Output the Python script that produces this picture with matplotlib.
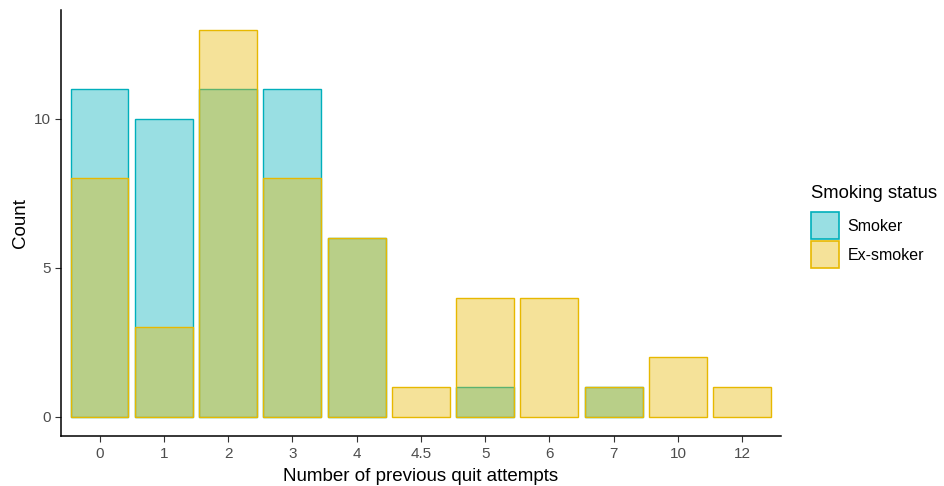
import matplotlib
matplotlib.use("Agg")
import matplotlib.pyplot as plt
from matplotlib.patches import Patch
import numpy as np

plt.rcParams['font.family'] = ['Liberation Sans', 'DejaVu Sans']

categories = ["0", "1", "2", "3", "4", "4.5", "5", "6", "7", "10", "12"]
smoker = [11, 10, 11, 11, 6, 0, 1, 0, 1, 0, 0]
ex_smoker = [8, 3, 13, 8, 6, 1, 4, 4, 1, 2, 1]

smoker_edge = "#00AFBB"
ex_edge = "#E7B800"
alpha = 0.4

fig = plt.figure(figsize=(9.44, 4.86), dpi=100)
ax = fig.add_axes([0.0646, 0.103, 0.7625, 0.876])

x = np.arange(len(categories))
for xi, v in zip(x, smoker):
    if v > 0:
        ax.bar(xi, v, width=0.9, color=smoker_edge, alpha=alpha, linewidth=0)
        ax.bar(xi, v, width=0.9, fill=False, edgecolor=smoker_edge, linewidth=1.0)
for xi, v in zip(x, ex_smoker):
    if v > 0:
        ax.bar(xi, v, width=0.9, color=ex_edge, alpha=alpha, linewidth=0)
        ax.bar(xi, v, width=0.9, fill=False, edgecolor=ex_edge, linewidth=1.0)

ax.set_xlim(-0.6, len(categories) - 0.4)
ax.set_ylim(-0.65, 13.65)
ax.set_xticks(x)
ax.set_xticklabels(categories)
ax.set_yticks([0, 5, 10])
for s in ["top", "right"]:
    ax.spines[s].set_visible(False)
for s in ["left", "bottom"]:
    ax.spines[s].set_linewidth(1.1)
    ax.spines[s].set_color("black")
ax.tick_params(axis="both", colors="#333333", labelcolor="#4D4D4D", labelsize=11, length=4, width=0.8)
ax.tick_params(axis="x", pad=4)
ax.set_xlabel("Number of previous quit attempts", fontsize=13.5, color="black", labelpad=5)
ax.set_ylabel("Count", fontsize=13.5, color="black", labelpad=3)

handles = [
    Patch(facecolor=(0.0, 0.686, 0.733, alpha), edgecolor=smoker_edge, linewidth=1.2, label="Smoker"),
    Patch(facecolor=(0.906, 0.722, 0.0, alpha), edgecolor=ex_edge, linewidth=1.2, label="Ex-smoker"),
]
leg = fig.legend(handles=handles, title="Smoking status", loc="upper left",
                 bbox_to_anchor=(0.852, 0.632), frameon=False, fontsize=11.5,
                 title_fontsize=13.3, handlelength=1.75, handleheight=2.25,
                 handletextpad=0.56, labelspacing=0.12, borderaxespad=0)
leg._legend_box.align = "left"
leg._legend_box.sep = 7

fig.savefig("out.png", dpi=100)
